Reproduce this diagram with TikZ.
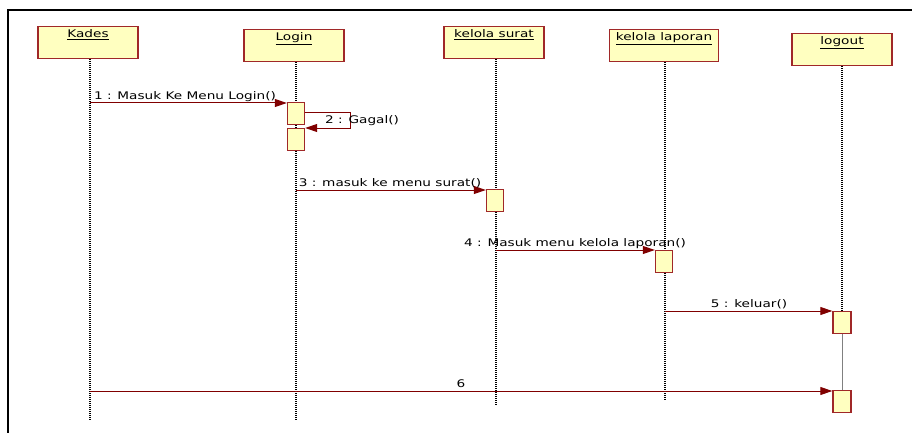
\documentclass[tikz,border=0pt]{standalone}
\usepackage{fontspec}
\usepackage{graphicx}
\setmainfont{DejaVu Sans}
\usetikzlibrary{arrows.meta,calc}
\definecolor{objfill}{RGB}{255,255,192}
\definecolor{objline}{RGB}{160,40,40}
\definecolor{msgline}{RGB}{128,0,0}
% wide, slightly stretched label text
\newcommand{\wtxt}[1]{\scalebox{1.3}[1]{\fontsize{10.5}{12}\selectfont #1}}
\tikzset{
  obj/.style={draw=objline, fill=objfill, line width=1.3pt, minimum width=100pt,
    inner xsep=0pt, inner ysep=3pt, text height=8pt, text depth=18pt, anchor=north},
  act/.style={draw=objline, fill=objfill, line width=1.4pt, minimum width=17pt,
    minimum height=22pt, inner sep=0pt, anchor=north},
  life/.style={line width=1.1pt, dash pattern=on 1pt off 1pt},
  msg/.style={draw=msgline, line width=1pt, -{Triangle[length=12pt,width=8pt]}},
  mlabel/.style={inner sep=0pt, anchor=base}
}
\begin{document}
\begin{tikzpicture}[x=1pt,y=-1pt]
\useasboundingbox (0,0) rectangle (912,433);
\fill[white] (0,0) rectangle (912,433);
% diagram frame
\draw[line width=2pt] (8,440) -- (8,10) -- (920,10);

% objects
\node[obj] (kades)   at (88,26)  {\wtxt{\underline{Kades}}};
\node[obj] (login)   at (294,29) {\wtxt{\underline{Login}}};
\node[obj] (surat)   at (494,26) {\wtxt{\underline{kelola surat}}};
\node[obj, minimum width=109pt] (laporan) at (664,29) {\wtxt{\underline{kelola laporan}}};
\node[obj] (logout)  at (842,33) {\wtxt{\underline{logout}}};

% lifeline ends
\coordinate (kadesEnd) at (90,420);
\coordinate (loginEnd) at (296,421);
\coordinate (suratEnd) at (496,405);
\coordinate (laporanEnd) at (665,400);

% activation bars
\node[act] (a1) at (296,102) {};
\node[act] (a2) at (296,128) {};
\node[act] (a3) at (495,189) {};
\node[act] (a4) at (664,250) {};
\node[act, minimum width=18pt] (a5) at (842,311) {};
\node[act, minimum width=18pt] (a6) at (842,390) {};

% lifelines
\draw[life] (kades.south -| kadesEnd) -- (kadesEnd);
\draw[life] (login.south -| loginEnd) -- (a1.north -| loginEnd);
\draw[life] (a1.south -| loginEnd) -- (a2.north -| loginEnd);
\draw[life] (a2.south -| loginEnd) -- (loginEnd);
\draw[life] (surat.south -| suratEnd) -- (a3.north -| suratEnd);
\draw[life] (a3.south -| suratEnd) -- (suratEnd);
\draw[life] (laporan.south -| laporanEnd) -- (a4.north -| laporanEnd);
\draw[life] (a4.south -| laporanEnd) -- (laporanEnd);
\draw[life] (logout.south) -- (a5.north);
\draw[gray, line width=0.8pt] (a5.south) -- (a6.north);

% messages
\draw[msg] ([yshift=-1pt]a1.north west -| kadesEnd) -- ([yshift=-1pt]a1.north west);
\node[mlabel] (l1) at (185,100) {\wtxt{1 : Masuk Ke Menu Login()}};

\coordinate (selfA) at (350,113);
\coordinate (selfB) at (350,128);
\draw[msg] ([yshift=-11pt]a1.north east) -- (selfA) -- (selfB) -- (a2.north east);
\node[mlabel, anchor=base west] (l2) at (325,124) {\wtxt{2 : Gagal()}};

\draw[msg] ([yshift=-1pt]a3.north west -| loginEnd) -- ([yshift=-1pt]a3.north west);
\node[mlabel] (l3) at (390,186) {\wtxt{3 : masuk ke menu surat()}};

\draw[msg] (a4.north west -| suratEnd) -- (a4.north west);
\node[mlabel] (l4) at (575,246) {\wtxt{4 : Masuk menu kelola laporan()}};

\draw[msg] (a5.north west -| laporanEnd) -- (a5.north west);
\node[mlabel] (l5) at (749,307) {\wtxt{5 : keluar()}};

\draw[msg] ([yshift=-1pt]a6.north west -| kadesEnd) -- ([yshift=-1pt]a6.north west);
\node[mlabel] (l6) at (461,387) {\wtxt{6}};
\end{tikzpicture}
\end{document}
